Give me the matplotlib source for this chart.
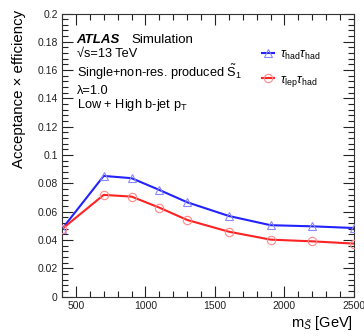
import numpy as np
import matplotlib
matplotlib.use('Agg')
import matplotlib.pyplot as plt
from matplotlib.ticker import MultipleLocator, FuncFormatter
from matplotlib.lines import Line2D

plt.rcParams['font.family'] = ['Liberation Sans', 'DejaVu Sans']
plt.rcParams['mathtext.fontset'] = 'custom'
plt.rcParams['mathtext.rm'] = 'Liberation Sans'
plt.rcParams['mathtext.it'] = 'Liberation Sans:italic'

masses = [400, 700, 900, 1100, 1300, 1600, 1900, 2200, 2500]
eff_hadhad = [0.0478, 0.0853, 0.0837, 0.0754, 0.0667, 0.0570, 0.0505, 0.0497, 0.0485]
eff_lephad = [0.0478, 0.0719, 0.0707, 0.0629, 0.0542, 0.0459, 0.0403, 0.0391, 0.0375]
labels = [r'$\tau_{\rm had}\tau_{\rm had}$', r'$\tau_{\rm lep}\tau_{\rm had}$']

W, H = 364, 336
fig = plt.figure(figsize=(W / 100, H / 100), dpi=100)
ax = fig.add_axes([62 / W, 1 - 296.7 / H, 292 / W, 283.2 / H])

ax.plot(masses, eff_hadhad, color='#2222ff', lw=1.5, zorder=2)
ax.plot(masses, eff_hadhad, ls='none', marker='^', ms=6, mfc='none',
        mec='#8888ff', mew=0.8, zorder=3)
ax.plot(masses, eff_lephad, color='#ff2222', lw=1.5, zorder=2)
ax.plot(masses, eff_lephad, ls='none', marker='o', ms=6, mfc='none',
        mec='#ff8888', mew=0.8, zorder=3)

ax.set_xlim(400, 2500)
ax.set_ylim(0, 0.2)
ax.xaxis.set_major_locator(MultipleLocator(500))
ax.xaxis.set_minor_locator(MultipleLocator(100))
ax.yaxis.set_major_locator(MultipleLocator(0.02))
ax.yaxis.set_minor_locator(MultipleLocator(0.004))
ax.yaxis.set_major_formatter(FuncFormatter(lambda v, p: '%g' % round(v, 3)))
ax.tick_params(which='both', direction='in', top=True, right=True,
               labelsize=7.5, colors='#222222', width=0.8)
ax.tick_params(which='major', length=8, pad=3)
ax.tick_params(which='minor', length=4)
for s in ax.spines.values():
    s.set_linewidth(0.8)
    s.set_color('#333333')

# axis titles placed like ROOT does
fig.text(19 / W, 1 - 10 / H, u'Acceptance \u00d7 efficiency', fontsize=10.8,
         rotation=90, ha='center', va='top')
fig.text(353 / W, 1 - 323 / H, r'm$_{\tilde{S}}$ [GeV]', fontsize=10.5,
         ha='right', va='center')

ax.text(0.05, 0.897, 'ATLAS', transform=ax.transAxes, fontsize=9.5,
        fontweight='bold', fontstyle='italic', va='baseline')
ax.text(0.239, 0.897, 'Simulation', transform=ax.transAxes, fontsize=9.5, va='baseline')
ax.text(0.05, 0.845, u'\u221as=13 TeV', transform=ax.transAxes, fontsize=9.2, va='baseline')
ax.text(0.05, 0.776, r'Single+non-res. produced $\tilde{\rm S}_1$', transform=ax.transAxes,
        fontsize=9.2, va='baseline')
ax.text(0.05, 0.716, u'\u03bb=1.0', transform=ax.transAxes, fontsize=9.2, va='baseline')
ax.text(0.05, 0.668, r'Low + High b-jet p$_{\rm T}$', transform=ax.transAxes,
        fontsize=9.2, va='baseline')

handles = [
    Line2D([], [], color='#2222ff', lw=1.5, marker='^', ms=6, mfc='none', mec='#8888ff', mew=0.8),
    Line2D([], [], color='#ff2222', lw=1.5, marker='o', ms=6, mfc='none', mec='#ff8888', mew=0.8),
]
ax.legend(handles, labels, loc='upper left', bbox_to_anchor=(0.645, 0.915),
          frameon=False, fontsize=9, handlelength=1.0, handletextpad=0.5,
          labelspacing=0.95)

fig.savefig('out.png', dpi=100)
